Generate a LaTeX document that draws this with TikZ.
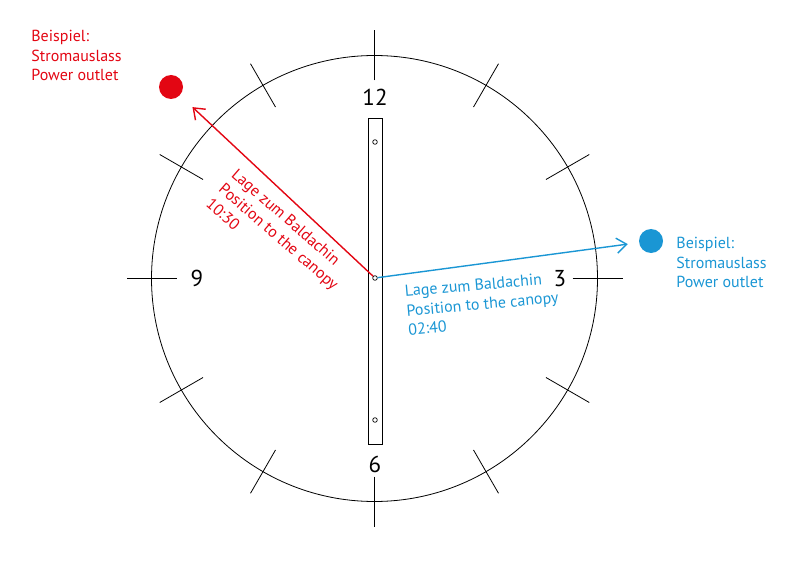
\documentclass[tikz,border=0pt]{standalone}
\usepackage{fontspec}
\setmainfont{PT Sans}
\usetikzlibrary{arrows.meta}
\definecolor{rd}{HTML}{E30613}
\definecolor{bl}{HTML}{1A96D4}
\begin{document}
\begin{tikzpicture}[x=1pt,y=-1pt, line width=0.8pt,
 num/.style={font=\fontsize{23}{27}\selectfont, inner sep=0},
 lbl/.style={font=\fontsize{16}{19.5}\selectfont, align=left, inner sep=0, anchor=north west},
 dot/.style={circle, inner sep=0, minimum size=24pt},
 hole/.style={circle, draw, inner sep=0, minimum size=4.6pt, line width=0.7pt},
 arr/.style={line width=1.4pt, -{Straight Barb[length=10pt,width=15pt,line width=1.4pt]}}
]
\useasboundingbox (0,0) rectangle (794,561);
\coordinate (c) at (374.5,278.5);
\draw (c) circle [radius=223];
\foreach \a in {0,30,...,330} \draw (c) ++(\a:198) -- ++(\a:50);
\draw (368,118) rectangle (382,444);
\node[hole] (h1) at (375,142) {};
\node[hole] (h2) at (375,420) {};
\node[hole] (piv) at (375,278) {};
\node[dot, fill=rd] (rdot) at (171,87) {};
\node[dot, fill=bl] (bdot) at (651,241) {};
\draw[arr, rd, shorten >=17pt] (piv) -- (rdot);
\draw[arr, bl, shorten >=11pt] (piv) -- (bdot);
\node[num] (n12) at (375,97) {12};
\node[num] (n3) at (560,279) {3};
\node[num] (n6) at (375,464) {6};
\node[num] (n9) at (197,278) {9};
\node[lbl, text=rd] (rtxt) at (31,30) {Beispiel:\\Stromauslass\\Power outlet};
\node[lbl, text=bl] (btxt) at (676,237) {Beispiel:\\Stromauslass\\Power outlet};
\node[lbl, text=rd, rotate=-41] (rlbl) at (238,167) {Lage zum Baldachin\\Position to the canopy\\10:30};
\node[lbl, text=bl, rotate=5] (blbl) at (404,285) {Lage zum Baldachin\\Position to the canopy\\02:40};
\end{tikzpicture}
\end{document}
